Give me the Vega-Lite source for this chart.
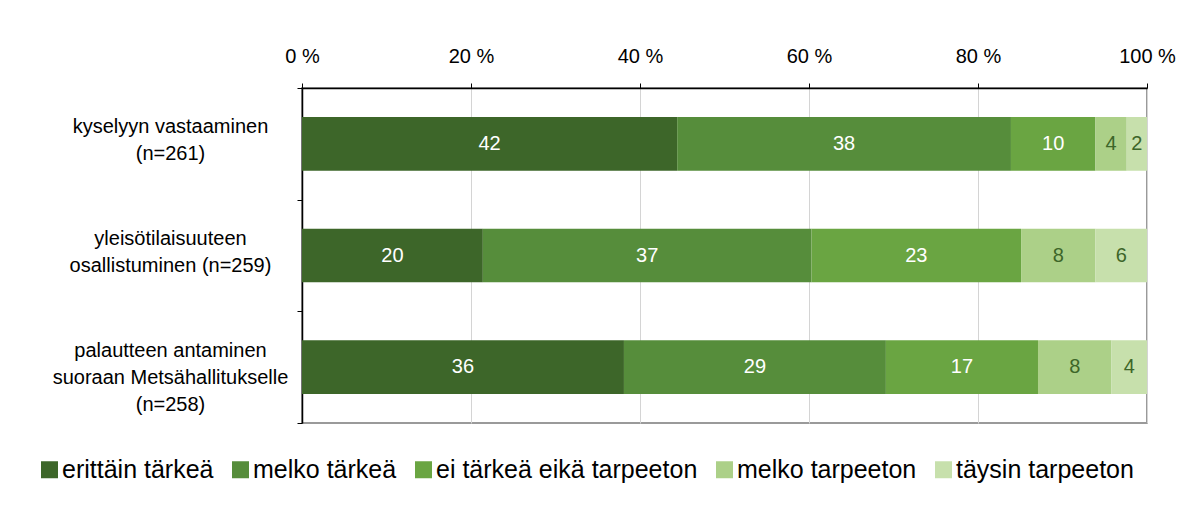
{
  "$schema": "https://vega.github.io/schema/vega-lite/v6.json",
  "width": 845,
  "height": 335,
  "autosize": {"type": "none"},
  "padding": {"left": 302, "top": 88, "right": 43, "bottom": 82},
  "background": "white",
  "config": {
    "font": "Liberation Sans",
    "view": {"stroke": "#9a9a9a", "strokeWidth": 2},
    "axis": {"labelFont": "Liberation Sans", "labelColor": "black"},
    "legend": {"labelFont": "Liberation Sans"}
  },
  "data": {
    "values": [
      {"cat": "kyselyyn vastaaminen|(n=261)", "resp": "erittäin tärkeä", "k": 1, "pct": 44.4, "label": "42"},
      {"cat": "kyselyyn vastaaminen|(n=261)", "resp": "melko tärkeä", "k": 2, "pct": 39.5, "label": "38"},
      {"cat": "kyselyyn vastaaminen|(n=261)", "resp": "ei tärkeä eikä tarpeeton", "k": 3, "pct": 10.0, "label": "10"},
      {"cat": "kyselyyn vastaaminen|(n=261)", "resp": "melko tarpeeton", "k": 4, "pct": 3.7, "label": "4"},
      {"cat": "kyselyyn vastaaminen|(n=261)", "resp": "täysin tarpeeton", "k": 5, "pct": 2.4, "label": "2"},
      {"cat": "yleisötilaisuuteen|osallistuminen (n=259)", "resp": "erittäin tärkeä", "k": 1, "pct": 21.4, "label": "20"},
      {"cat": "yleisötilaisuuteen|osallistuminen (n=259)", "resp": "melko tärkeä", "k": 2, "pct": 38.9, "label": "37"},
      {"cat": "yleisötilaisuuteen|osallistuminen (n=259)", "resp": "ei tärkeä eikä tarpeeton", "k": 3, "pct": 24.8, "label": "23"},
      {"cat": "yleisötilaisuuteen|osallistuminen (n=259)", "resp": "melko tarpeeton", "k": 4, "pct": 8.8, "label": "8"},
      {"cat": "yleisötilaisuuteen|osallistuminen (n=259)", "resp": "täysin tarpeeton", "k": 5, "pct": 6.1, "label": "6"},
      {"cat": "palautteen antaminen|suoraan Metsähallitukselle|(n=258)", "resp": "erittäin tärkeä", "k": 1, "pct": 38.1, "label": "36"},
      {"cat": "palautteen antaminen|suoraan Metsähallitukselle|(n=258)", "resp": "melko tärkeä", "k": 2, "pct": 31.0, "label": "29"},
      {"cat": "palautteen antaminen|suoraan Metsähallitukselle|(n=258)", "resp": "ei tärkeä eikä tarpeeton", "k": 3, "pct": 18.0, "label": "17"},
      {"cat": "palautteen antaminen|suoraan Metsähallitukselle|(n=258)", "resp": "melko tarpeeton", "k": 4, "pct": 8.7, "label": "8"},
      {"cat": "palautteen antaminen|suoraan Metsähallitukselle|(n=258)", "resp": "täysin tarpeeton", "k": 5, "pct": 4.2, "label": "4"}
    ]
  },
  "layer": [
    {
      "mark": {"type": "bar", "height": {"band": 0.48}},
      "encoding": {
        "y": {
          "field": "cat",
          "type": "nominal",
          "sort": null,
          "scale": {"paddingInner": 0, "paddingOuter": 0},
          "axis": {
            "title": null,
            "orient": "left",
            "labelExpr": "split(datum.label, '|')",
            "labelAlign": "center",
            "labelBaseline": "middle",
            "labelFontSize": 20,
            "labelLineHeight": 27,
            "labelOffset": -17,
            "labelLimit": 0,
            "labelPadding": 127,
            "tickBand": "extent",
            "tickSize": 5,
            "tickColor": "black",
            "domainColor": "black",
            "domainWidth": 1.5,
            "grid": false
          }
        },
        "x": {
          "field": "pct",
          "type": "quantitative",
          "stack": "normalize",
          "scale": {"domain": [0, 1]},
          "axis": {
            "title": null,
            "orient": "top",
            "values": [0, 0.2, 0.4, 0.6, 0.8, 1],
            "labelExpr": "round(datum.value * 100) + ' %'",
            "labelFontSize": 20,
            "labelFlush": false,
            "labelPadding": 17,
            "tickSize": 5,
            "tickColor": "black",
            "domainColor": "black",
            "domainWidth": 1.5,
            "grid": true,
            "gridColor": "#d4d4d4"
          }
        },
        "order": {"field": "k", "type": "quantitative"},
        "color": {
          "field": "resp",
          "type": "nominal",
          "scale": {
            "domain": ["erittäin tärkeä", "melko tärkeä", "ei tärkeä eikä tarpeeton", "melko tarpeeton", "täysin tarpeeton"],
            "range": ["#3d6629", "#568d3b", "#6aa542", "#acd088", "#c7e0ac"]
          },
          "legend": {
            "title": null,
            "orient": "none",
            "direction": "horizontal",
            "legendX": -265,
            "legendY": 369,
            "symbolType": "square",
            "symbolSize": 289,
            "symbolStrokeWidth": 0,
            "symbolOpacity": 1,
            "labelFontSize": 25,
            "labelColor": "black",
            "labelOffset": 0,
            "labelLimit": 0,
            "columnPadding": 14
          }
        }
      }
    },
    {
      "mark": {"type": "text", "fontSize": 20, "baseline": "middle", "align": "center"},
      "encoding": {
        "y": {"field": "cat", "type": "nominal", "sort": null},
        "x": {"field": "pct", "type": "quantitative", "stack": "normalize", "bandPosition": 0.5},
        "order": {"field": "k", "type": "quantitative"},
        "text": {"field": "label"},
        "color": {"condition": {"test": "datum.k >= 4", "value": "#3d6629"}, "value": "white"}
      }
    }
  ]
}
